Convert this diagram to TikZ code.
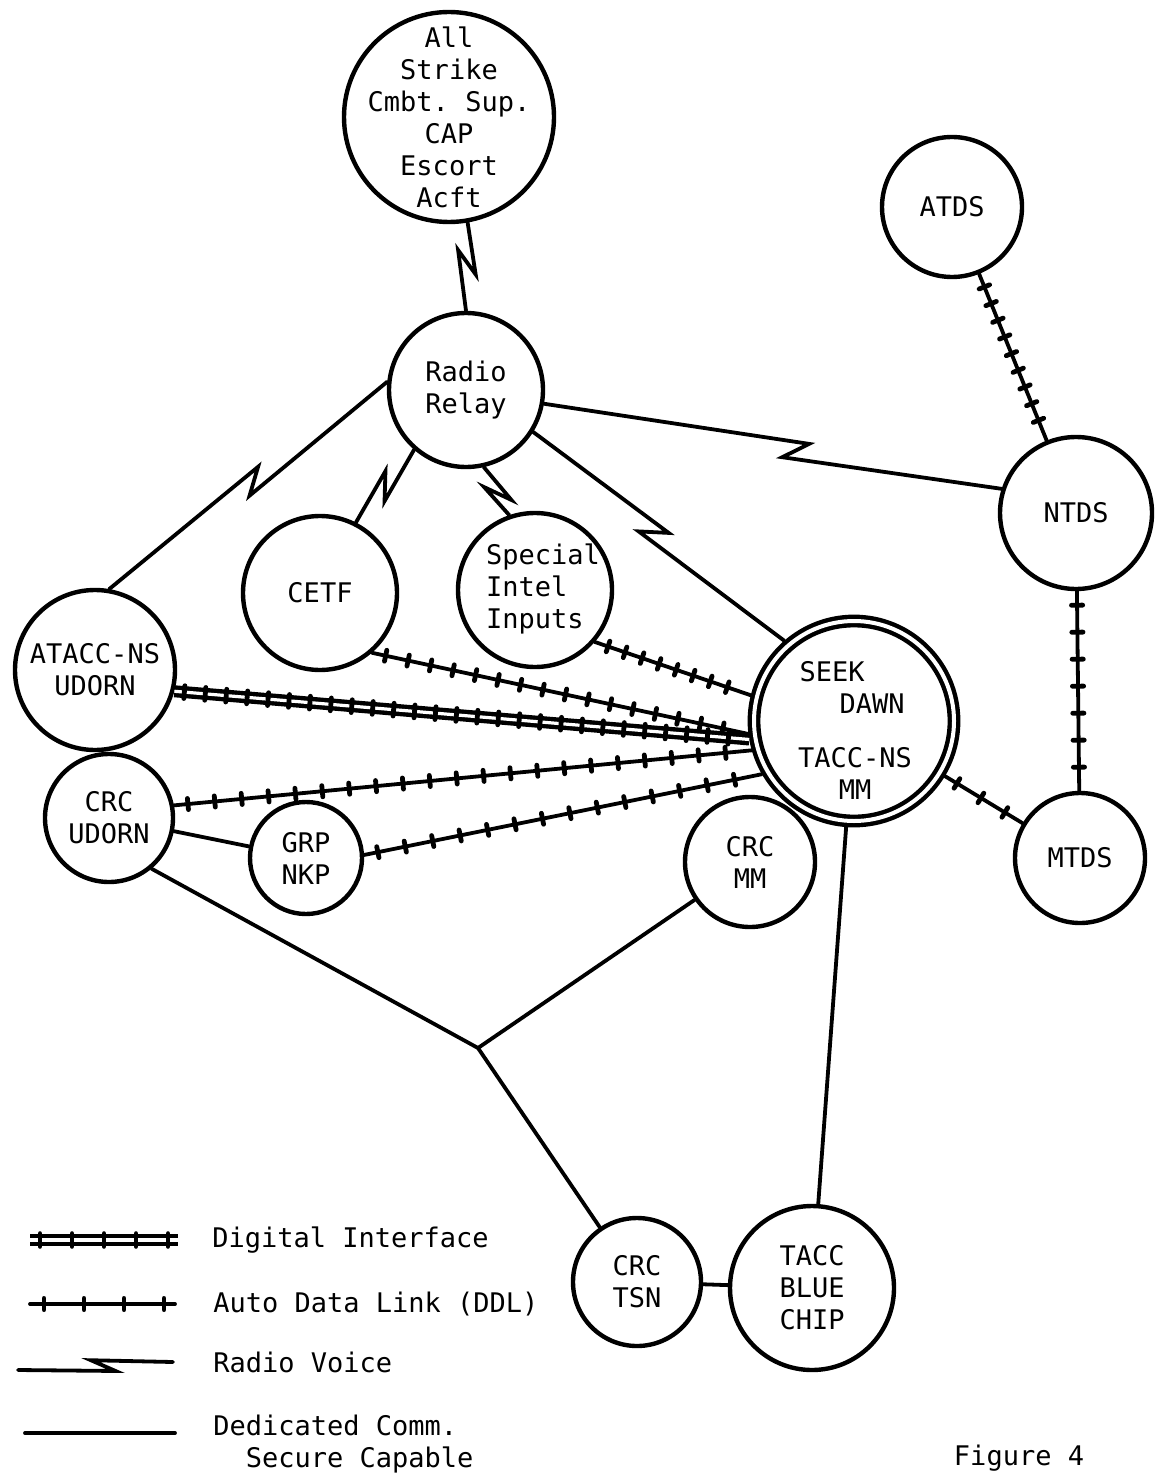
\documentclass[tikz,border=0pt]{standalone}
\usepackage{fontspec}
\setmonofont{DejaVu Sans Mono}
\usetikzlibrary{positioning,calc,decorations.markings}

\tikzset{
  stn/.style={circle, draw, line width=2.2pt, minimum size=#1, inner sep=0pt,
    align=center, font=\ttfamily\fontsize{13.5}{16}\selectfont},
  lbl/.style={inner sep=0pt, align=left, font=\ttfamily\fontsize{13.5}{16}\selectfont},
  ded/.style={line width=1.9pt, line cap=round},
  adl/.style={ded, postaction={decorate, decoration={markings,
    mark=between positions 7pt and -4pt step #1 with {\draw[line width=2.4pt, line cap=round] (0,-2.8pt) -- (0,2.8pt);}}}},
  adl/.default=13pt,
  digi/.style={line width=6pt, postaction={draw=white, line width=1.6pt},
    postaction={decorate, decoration={markings,
    mark=between positions 5pt and -4pt step #1 with {\draw[line width=2.4pt, line cap=round] (0,-3.2pt) -- (0,3.2pt);}}}},
  digi/.default=10.5pt,
  radio/.style 2 args={to path={
    -- ($(\tikztostart)!#1!(\tikztotarget)!6pt!(\tikztotarget)!#2!-90:(\tikztotarget)$)
    -- ($(\tikztostart)!#1!(\tikztotarget)!-6pt!(\tikztotarget)!#2!90:(\tikztotarget)$)
    -- (\tikztotarget) \tikztonodes}}
}

\begin{document}
\begin{tikzpicture}[x=0.5pt, y=-0.5pt]
\useasboundingbox (0,0) rectangle (1156,1476);

% stations
\node[stn=105pt] (acft) at (449,117) {};
\node[lbl, align=center] (acfttxt) at (acft) {All\\Strike\\Cmbt. Sup.\\CAP\\Escort\\Acft};
\node[stn=77pt] (relay) at (466,390) {Radio\\Relay};
\node[stn=70pt] (atds) at (952,207) {ATDS};
\node[stn=76pt] (ntds) at (1076,513) {NTDS};
\node[stn=77pt] (cetf) at (320,593) {CETF};
\node[stn=77pt] (spec) at (535,590) {};
\node[lbl] (spectxt) at (543,589) {Special\\Intel\\Inputs};
\node[stn=80pt] (atacc) at (95,670) {ATACC-NS\\UDORN};
\node[stn=64pt] (crcud) at (109,818) {CRC\\UDORN};
\node[stn=56pt] (grp) at (306,858) {GRP\\NKP};
\node[stn=100pt, double, line width=2.2pt, double distance=2pt, outer sep=3.2pt] (seek) at (854,721) {};
\node[lbl, align=center] (seektxt) at (855,730) {SEEK\hspace*{23pt}\\\hspace*{17pt}DAWN\\[11pt]TACC-NS\\MM};
\node[stn=65pt] (crcmm) at (750,862) {CRC\\MM};
\node[stn=65pt] (mtds) at (1080,858) {MTDS};
\node[stn=64pt] (crctsn) at (637,1282) {CRC\\TSN};
\node[stn=82pt] (blue) at (812,1288) {TACC\\BLUE\\CHIP};
\coordinate (jn) at (478,1048);

% radio voice
\draw[ded] (acft.-80) to[radio={0.45}{-4.5pt}] (relay.north);
\draw[ded] (relay.174) to[radio={0.48}{-4.5pt}] (atacc.80);
\draw[ded] (relay.229) to[radio={0.5}{-4.5pt}] (cetf.63);
\draw[ded] (relay.-77) to[radio={0.55}{-4.5pt}] (spec.109);
\draw[ded] (relay.-32) to[radio={0.48}{-4.5pt}] (seek.131);
\draw[ded] (relay.-10) to[radio={0.55}{-4.5pt}] (ntds.162);

% data links
\draw[adl=9pt] (atds) -- (ntds);
\draw[adl=13.5pt] (ntds) -- (mtds);
\draw[adl=14pt] (seek) -- (mtds);
\draw[adl=11.5pt] (cetf.-49) -- (seek.187);
\draw[adl=9pt] (spec.-41) -- (seek.166);
\draw[adl=13.5pt] (crcud.11) -- (seek.196);
\draw[adl=14pt] (grp.3) -- (seek.210);
\draw[digi] (atacc.-15) -- (seek.190);

% dedicated lines
\draw[ded] (crcud) -- (grp);
\draw[ded] (crcud.-50) -- (jn) -- (crctsn);
\draw[ded] (crcmm) -- (jn);
\draw[ded] (crctsn) -- (blue);
\draw[ded] (seek) -- (blue);

% legend
\coordinate (ld1) at (30,1240);
\coordinate (ld2) at (178,1240);
\draw[digi=16pt] (ld1) -- (ld2);
\node[lbl, right=17pt of ld2] (tdigi) {Digital Interface};
\coordinate (la1) at (30,1304);
\coordinate (la2) at (175,1304);
\draw[adl=20pt] (la1) -- (la2);
\node[lbl, right=19pt of la2] (tadl) {Auto Data Link (DDL)};
\coordinate (lr1) at (18,1370);
\coordinate (lr2) at (173,1362);
\draw[ded] (lr1) to[radio={0.55}{3pt}] (lr2);
\node[lbl, right=20pt of lr2] (tradio) {Radio Voice};
\coordinate (lc1) at (25,1433);
\coordinate (lc2) at (175,1433);
\draw[ded] (lc1) -- (lc2);
\node[lbl, right=19pt of lc2, yshift=-5.5pt] (tded) {Dedicated Comm.\\\hspace*{1.2em}Secure Capable};

\node[lbl] (fig) at (1019,1458) {Figure 4};
\end{tikzpicture}
\end{document}
